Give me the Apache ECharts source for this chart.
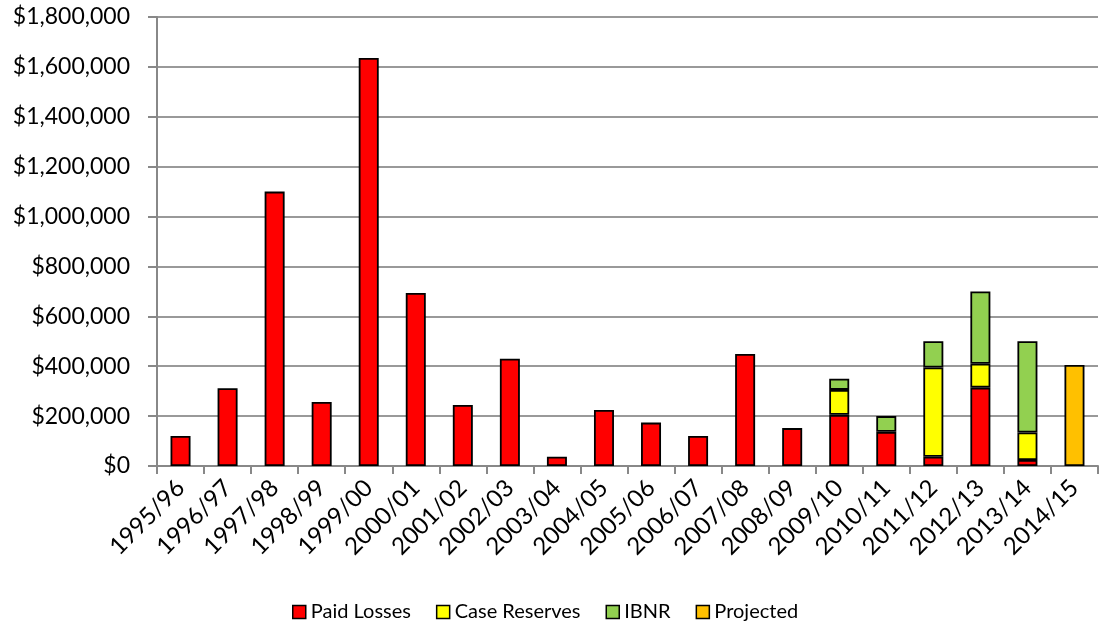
<!DOCTYPE html>
<html><head><meta charset="utf-8">
<script src="https://cdn.jsdelivr.net/npm/echarts@6/dist/echarts.min.js"></script>
<style>html,body{margin:0;padding:0;background:#fff}#c{width:1099px;height:627px}</style>
</head><body><div id="c"></div>
<script>
const categories = ['1995/96','1996/97','1997/98','1998/99','1999/00','2000/01','2001/02','2002/03','2003/04','2004/05','2005/06','2006/07','2007/08','2008/09','2009/10','2010/11','2011/12','2012/13','2013/14','2014/15'];
const paidLosses = [120000,312000,1100000,257000,1636000,694000,245000,430000,37000,225000,174000,120000,449000,152000,205000,137000,37000,314000,24000,null];
const caseReserves = [null,null,null,null,null,null,null,null,null,null,null,null,null,null,100000,null,358000,96000,110000,null];
const ibnr = [null,null,null,null,null,null,null,null,null,null,null,null,null,null,45000,63000,105000,290000,366000,null];
const projected = [null,null,null,null,null,null,null,null,null,null,null,null,null,null,null,null,null,null,null,405000];
const yTicks = [0,200000,400000,600000,800000,1000000,1200000,1400000,1600000,1800000];

const FONT = 'Lato';
const chart = echarts.init(document.getElementById('c'));
function mk(name, data, color){
  return {name, type:'bar', stack:'t', data, barWidth:20,
    itemStyle:{color, borderColor:'#000', borderWidth:1.8}};
}
chart.setOption({
  animation:false,
  textStyle:{fontFamily:FONT},
  grid:{left:157, right:1, top:17, bottom:161},
  legend:{bottom:0, left:287, itemWidth:13, itemHeight:13, itemGap:25,
    textStyle:{fontSize:20, color:'#000', fontFamily:FONT},
    data:['Paid Losses','Case Reserves','IBNR','Projected'].map(n=>({name:n, icon:'rect', itemStyle:{borderColor:'#000', borderWidth:1.5}}))},
  xAxis:{type:'category', data:categories,
    axisLine:{lineStyle:{color:'#888', width:2}},
    axisTick:{show:true, length:8, lineStyle:{color:'#888', width:2}},
    axisLabel:{rotate:45, fontSize:24, color:'#000', margin:18, interval:0, fontFamily:FONT}},
  yAxis:{type:'value', min:yTicks[0], max:yTicks[yTicks.length-1], interval:200000,
    axisLine:{show:true, lineStyle:{color:'#888', width:2}},
    axisTick:{show:true, length:9, lineStyle:{color:'#888', width:2}},
    splitLine:{lineStyle:{color:'#999', width:2}},
    axisLabel:{fontSize:23, color:'#000', margin:27, fontFamily:FONT,
      formatter:v=>'$'+v.toLocaleString('en-US')}},
  series:[
    mk('Paid Losses', paidLosses, '#ff0000'),
    mk('Case Reserves', caseReserves, '#ffff00'),
    mk('IBNR', ibnr, '#92d050'),
    mk('Projected', projected, '#ffc000')
  ]
});
</script></body></html>
